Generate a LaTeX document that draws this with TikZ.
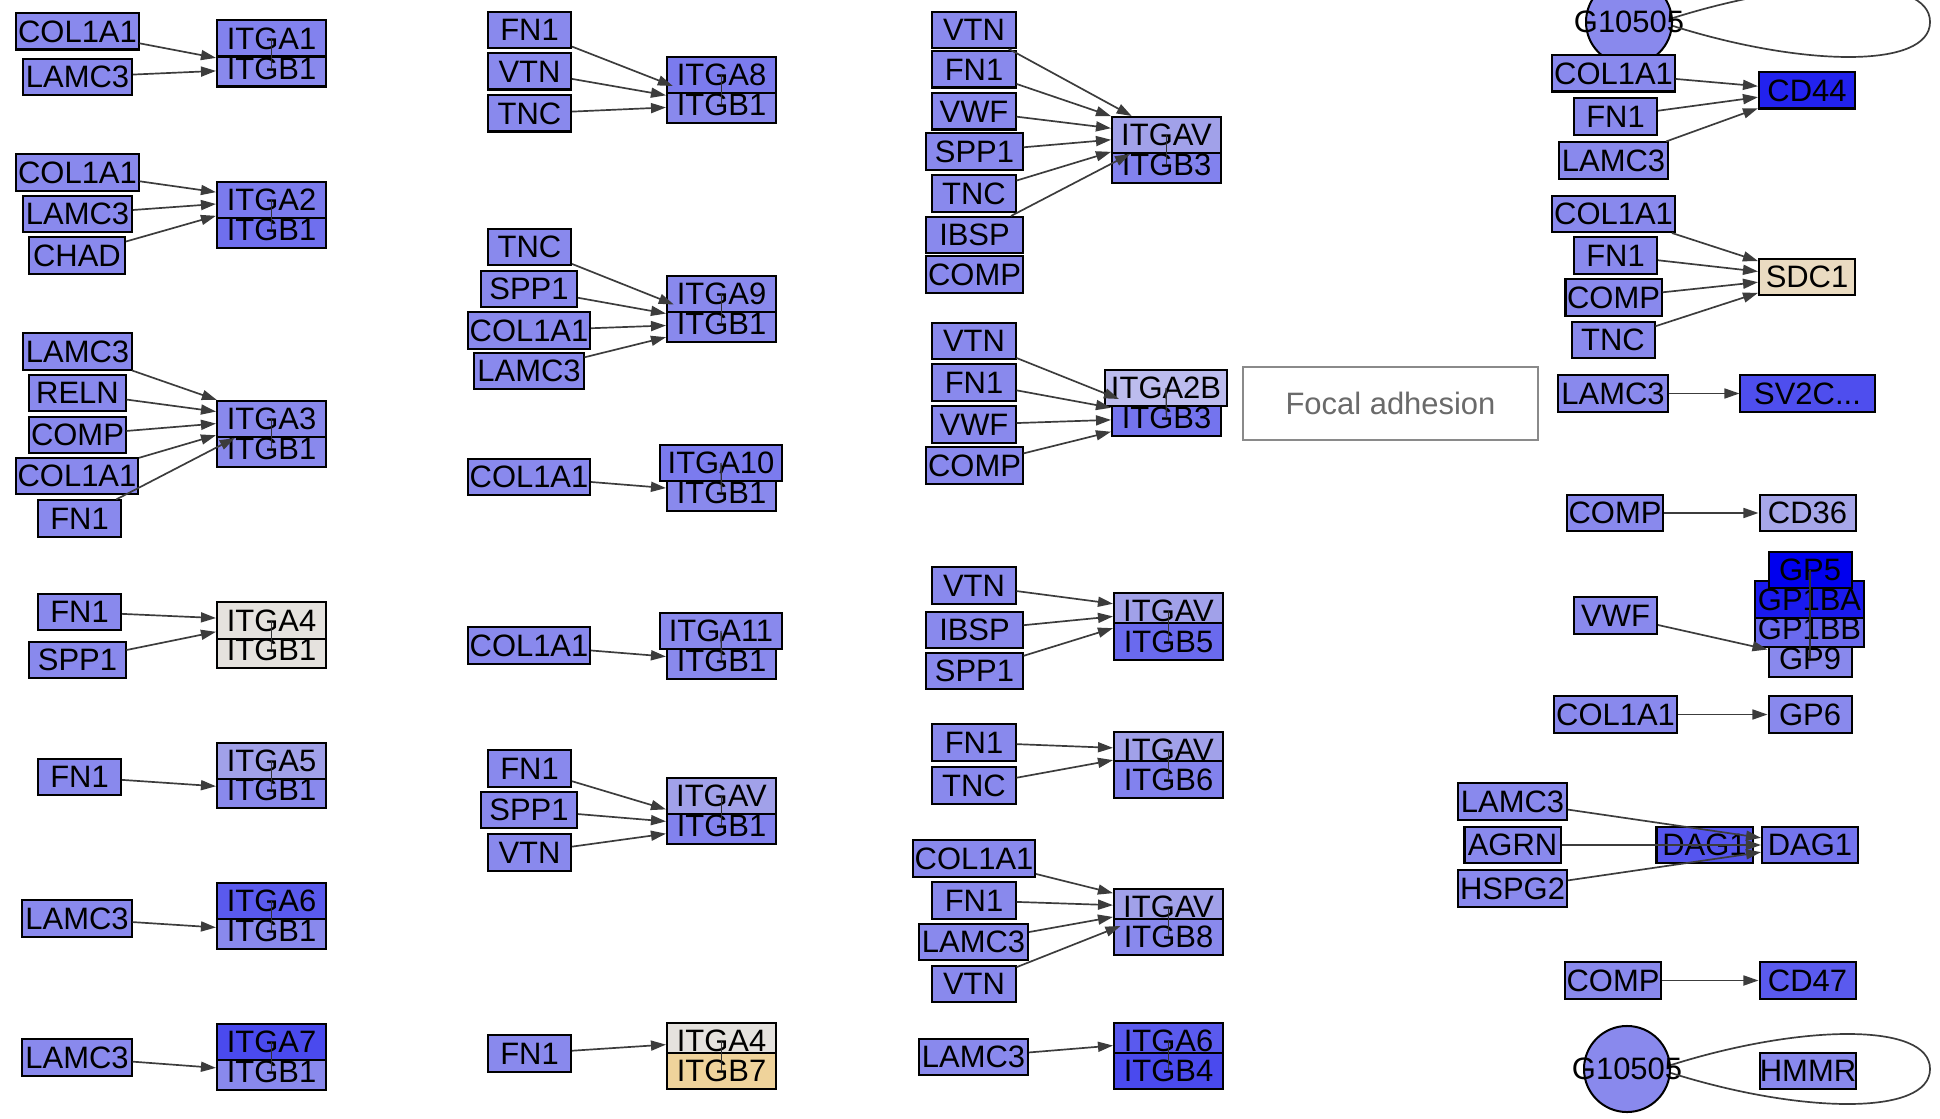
\documentclass[tikz,border=0pt]{standalone}
\usepackage{fontspec}
\newfontfamily\genefont{Liberation Sans}
\usetikzlibrary{arrows.meta}

\definecolor{gblue}{HTML}{8989ED}
\definecolor{avlight}{HTML}{A1A1E9}
\definecolor{albright}{HTML}{BCBCEE}
\definecolor{cdlight}{HTML}{A7A7E9}
\definecolor{greybeige}{HTML}{E5E2DE}
\definecolor{tanb}{HTML}{EFD39B}
\definecolor{sdcbeige}{HTML}{EADBC1}
\definecolor{bluea}{HTML}{8282EE}
\definecolor{blueb}{HTML}{7B7BEE}
\definecolor{bluec}{HTML}{6F6FEE}
\definecolor{blued}{HTML}{5A5AEE}
\definecolor{bluee}{HTML}{4A4AEE}
\definecolor{bluef}{HTML}{2222EE}
\definecolor{blueg}{HTML}{0000EE}
\definecolor{blueh}{HTML}{1A1AEE}
\definecolor{bluei}{HTML}{6A6AEE}
\definecolor{bluej}{HTML}{4E4EEE}
\definecolor{bluek}{HTML}{5555EE}
\definecolor{bluel}{HTML}{7474EE}
\definecolor{edgegray}{HTML}{3C3C3C}
\definecolor{fagray}{HTML}{8A8A8A}
\definecolor{fatext}{HTML}{6A6A6A}

\tikzset{
  gene/.style={draw=black, line width=0.57pt, fill=gblue, minimum height=0.36cm, inner sep=0pt,
    font=\genefont\fontsize{8.8}{9}\selectfont},
  w83/.style={minimum width=0.83cm},
  w96/.style={minimum width=0.96cm},
  w109/.style={minimum width=1.09cm},
  w122/.style={minimum width=1.22cm},
  w134/.style={minimum width=1.34cm},
  compound/.style={gene, circle, minimum size=0.86cm},
  pathway/.style={draw=fagray, line width=0.45pt, fill=white, minimum width=2.95cm, minimum height=0.73cm,
    text=fatext, font=\genefont\fontsize{8.8}{9}\selectfont},
  bind/.style={draw=edgegray, line width=0.48pt, -{Triangle[length=0.15cm,width=0.1cm]}},
  pair/.style={draw=black!80, line width=0.4pt},
  loopline/.style={draw=edgegray, line width=0.48pt},
}

\begin{document}
\begin{tikzpicture}[x=0.01cm,y=-0.01cm]
\clip (0,0) rectangle (1940,1119);
\fill[white] (0,0) rectangle (1940,1119);

% first column
\node[gene,w122] (a1col) at (77.5,31.5) {COL1A1};
\node[gene,w109] (a1lam) at (77.5,77) {LAMC3};
\node[gene,w109] (a1b) at (271.5,68.5) {ITGB1};
\node[gene,w109,fill=bluea] (a1a) at (271.5,38.5) {ITGA1};
\draw[pair] (a1a.center) -- (a1b.center);
\path (a1col) edge[bind] (a1b) (a1lam) edge[bind] (a1b);

\node[gene,w122] (a2col) at (77.5,172.5) {COL1A1};
\node[gene,w109] (a2lam) at (77.5,214) {LAMC3};
\node[gene,w96] (a2chad) at (77,255.5) {CHAD};
\node[gene,w109,fill=bluec] (a2b) at (271.5,229.5) {ITGB1};
\node[gene,w109,fill=blueb] (a2a) at (271.5,200) {ITGA2};
\draw[pair] (a2a.center) -- (a2b.center);
\path (a2col) edge[bind] (a2a) (a2lam) edge[bind] (a2a) (a2chad) edge[bind] (a2a);

\node[gene,w109] (a3lam) at (77.5,351.5) {LAMC3};
\node[gene,w96] (a3reln) at (77.5,393) {RELN};
\node[gene,w96] (a3comp) at (77.5,435) {COMP};
\node[gene,w122] (a3col) at (77,476) {COL1A1};
\node[gene,w83] (a3fn) at (79.5,518.5) {FN1};
\node[gene,w109] (a3b) at (271.5,449) {ITGB1};
\node[gene,w109] (a3a) at (271.5,419) {ITGA3};
\draw[pair] (a3a.center) -- (a3b.center);
\path (a3lam) edge[bind] (a3a) (a3reln) edge[bind] (a3a) (a3comp) edge[bind] (a3a)
      (a3col) edge[bind] (a3a) (a3fn) edge[bind] (a3a);

\node[gene,w83] (a4fn) at (79.5,612) {FN1};
\node[gene,w96] (a4spp) at (77.5,660) {SPP1};
\node[gene,w109,fill=greybeige] (a4b) at (271.5,650) {ITGB1};
\node[gene,w109,fill=greybeige] (a4a) at (271.5,620.5) {ITGA4};
\draw[pair] (a4a.center) -- (a4b.center);
\path (a4fn) edge[bind] (a4a) (a4spp) edge[bind] (a4a);

\node[gene,w83] (a5fn) at (79.5,777) {FN1};
\node[gene,w109] (a5b) at (271.5,790) {ITGB1};
\node[gene,w109,fill=avlight] (a5a) at (271.5,761) {ITGA5};
\draw[pair] (a5a.center) -- (a5b.center);
\path (a5fn) edge[bind] (a5b);

\node[gene,w109] (a6lam) at (77,918.5) {LAMC3};
\node[gene,w109] (a6b) at (271.5,931) {ITGB1};
\node[gene,w109,fill=blued] (a6a) at (271.5,901) {ITGA6};
\draw[pair] (a6a.center) -- (a6b.center);
\path (a6lam) edge[bind] (a6b);

\node[gene,w109] (a7lam) at (77,1057.5) {LAMC3};
\node[gene,w109] (a7b) at (271.5,1072) {ITGB1};
\node[gene,w109,fill=bluee] (a7a) at (271.5,1042) {ITGA7};
\draw[pair] (a7a.center) -- (a7b.center);
\path (a7lam) edge[bind] (a7b);

% second column
\node[gene,w83] (a8fn) at (529.5,30) {FN1};
\node[gene,w83] (a8vtn) at (529.5,71.5) {VTN};
\node[gene,w83] (a8tnc) at (529.5,113.5) {TNC};
\node[gene,w109] (a8b) at (721.5,105) {ITGB1};
\node[gene,w109,fill=blueb] (a8a) at (721.5,75) {ITGA8};
\draw[pair] (a8a.center) -- (a8b.center);
\path (a8fn) edge[bind] (a8b) (a8vtn) edge[bind] (a8b) (a8tnc) edge[bind] (a8b);

\node[gene,w83] (a9tnc) at (529.5,247) {TNC};
\node[gene,w96] (a9spp) at (529,289) {SPP1};
\node[gene,w122] (a9col) at (529,330.5) {COL1A1};
\node[gene,w109] (a9lam) at (529,371) {LAMC3};
\node[gene,w109] (a9b) at (721.5,323.5) {ITGB1};
\node[gene,w109] (a9a) at (721.5,294) {ITGA9};
\draw[pair] (a9a.center) -- (a9b.center);
\path (a9tnc) edge[bind] (a9b) (a9spp) edge[bind] (a9b) (a9col) edge[bind] (a9b) (a9lam) edge[bind] (a9b);

\node[gene,w122] (a10col) at (529,477) {COL1A1};
\node[gene,w109] (a10b) at (721.5,492.5) {ITGB1};
\node[gene,w122,fill=blueb] (a10a) at (721,463) {ITGA10};
\draw[pair] (a10a.center) -- (a10b.center);
\path (a10col) edge[bind] (a10b);

\node[gene,w122] (a11col) at (529,645.5) {COL1A1};
\node[gene,w109] (a11b) at (721.5,661) {ITGB1};
\node[gene,w122] (a11a) at (721,631) {ITGA11};
\draw[pair] (a11a.center) -- (a11b.center);
\path (a11col) edge[bind] (a11b);

\node[gene,w83] (avfn) at (529.5,768.5) {FN1};
\node[gene,w96] (avspp) at (529,810) {SPP1};
\node[gene,w83] (avvtn) at (529.5,852.5) {VTN};
\node[gene,w109,fill=bluea] (avb) at (721.5,826) {ITGB1};
\node[gene,w109,fill=avlight] (ava) at (721.5,796) {ITGAV};
\draw[pair] (ava.center) -- (avb.center);
\path (avfn) edge[bind] (avb) (avspp) edge[bind] (avb) (avvtn) edge[bind] (avb);

\node[gene,w83] (b7fn) at (529.5,1053.5) {FN1};
\node[gene,w109,fill=greybeige] (b7a) at (721.5,1041) {ITGA4};
\node[gene,w109,fill=tanb] (b7b) at (721.5,1071) {ITGB7};
\draw[pair] (b7a.center) -- (b7b.center);
\path (b7fn) edge[bind] (b7a);

% third column
\node[gene,w83] (b3vtn) at (974,30) {VTN};
\node[gene,w83] (b3fn) at (974,69.5) {FN1};
\node[gene,w83] (b3vwf) at (974,111.5) {VWF};
\node[gene,w96] (b3spp) at (974.5,151.5) {SPP1};
\node[gene,w83] (b3tnc) at (974,193.5) {TNC};
\node[gene,w96] (b3ibsp) at (974.5,235) {IBSP};
\node[gene,w96] (b3comp) at (974.5,274.5) {COMP};
\node[gene,w109,fill=bluea] (b3b) at (1166.5,165) {ITGB3};
\node[gene,w109,fill=avlight] (b3a) at (1166.5,135) {ITGAV};
\draw[pair] (b3a.center) -- (b3b.center);
\path (b3vtn) edge[bind] (b3a) (b3fn) edge[bind] (b3a) (b3vwf) edge[bind] (b3a)
      (b3spp) edge[bind] (b3a) (b3tnc) edge[bind] (b3a) (b3ibsp) edge[bind] (b3a);

\node[gene,w83] (a2bvtn) at (974,341) {VTN};
\node[gene,w83] (a2bfn) at (974,382.5) {FN1};
\node[gene,w83] (a2bvwf) at (974,424.5) {VWF};
\node[gene,w96] (a2bcomp) at (974.5,465.5) {COMP};
\node[gene,w109,fill=bluel] (a2bb) at (1166.5,418) {ITGB3};
\node[gene,w122,fill=albright] (a2ba) at (1166,388) {ITGA2B};
\draw[pair] (a2ba.center) -- (a2bb.center);
\path (a2bvtn) edge[bind] (a2bb) (a2bfn) edge[bind] (a2bb) (a2bvwf) edge[bind] (a2bb) (a2bcomp) edge[bind] (a2bb);

\node[pathway] (focal) at (1390.5,403.5) {Focal adhesion};

\node[gene,w83] (b5vtn) at (974,585.5) {VTN};
\node[gene,w96] (b5ibsp) at (974.5,630) {IBSP};
\node[gene,w96] (b5spp) at (974.5,671) {SPP1};
\node[gene,w109,fill=avlight] (b5a) at (1168.5,611) {ITGAV};
\node[gene,w109,fill=bluei] (b5b) at (1168.5,641.5) {ITGB5};
\draw[pair] (b5a.center) -- (b5b.center);
\path (b5vtn) edge[bind] (b5a) (b5ibsp) edge[bind] (b5a) (b5spp) edge[bind] (b5a);

\node[gene,w83] (b6fn) at (974,742.5) {FN1};
\node[gene,w83] (b6tnc) at (974,785.5) {TNC};
\node[gene,w109,fill=avlight] (b6a) at (1168.5,750) {ITGAV};
\node[gene,w109,fill=bluea] (b6b) at (1168.5,779.5) {ITGB6};
\draw[pair] (b6a.center) -- (b6b.center);
\path (b6fn) edge[bind] (b6a) (b6tnc) edge[bind] (b6a);

\node[gene,w122] (b8col) at (974,858.5) {COL1A1};
\node[gene,w83] (b8fn) at (974,900.5) {FN1};
\node[gene,w109] (b8lam) at (973.5,942) {LAMC3};
\node[gene,w83] (b8vtn) at (974,984) {VTN};
\node[gene,w109,fill=avlight] (b8a) at (1168.5,907) {ITGAV};
\node[gene,w109] (b8b) at (1168.5,937) {ITGB8};
\draw[pair] (b8a.center) -- (b8b.center);
\path (b8col) edge[bind] (b8a) (b8fn) edge[bind] (b8a) (b8lam) edge[bind] (b8a) (b8vtn) edge[bind] (b8a);

\node[gene,w109] (b4lam) at (973.5,1057) {LAMC3};
\node[gene,w109,fill=blued] (b4a) at (1168.5,1041) {ITGA6};
\node[gene,w109,fill=bluee] (b4b) at (1168.5,1071) {ITGB4};
\draw[pair] (b4a.center) -- (b4b.center);
\path (b4lam) edge[bind] (b4a);

% right column
\node[compound] (gtop) at (1629,22) {\makebox[0pt]{G10505}};
\coordinate (gtip1) at (1930,22);
\draw[loopline] ([yshift=0.04cm]gtop.east) .. controls +(130,-41) and +(0,-47) .. (gtip1)
  .. controls +(0,47) and +(130,41) .. ([yshift=-0.04cm]gtop.east);

\node[gene,w122] (cdcol) at (1613.5,73.5) {COL1A1};
\node[gene,w83] (cdfn) at (1615.5,116.5) {FN1};
\node[gene,w109] (cdlam) at (1613.5,160.5) {LAMC3};
\node[gene,w96,fill=bluef] (cd44) at (1807,90.5) {CD44};
\path (cdcol) edge[bind] (cd44) (cdfn) edge[bind] (cd44) (cdlam) edge[bind] (cd44);

\node[gene,w122] (sdcol) at (1613.5,214) {COL1A1};
\node[gene,w83] (sdfn) at (1615.5,255.5) {FN1};
\node[gene,w96] (sdcomp) at (1613.5,297.5) {COMP};
\node[gene,w83] (sdtnc) at (1613,340) {TNC};
\node[gene,w96,fill=sdcbeige] (sdc1) at (1807,277) {SDC1};
\path (sdcol) edge[bind] (sdc1) (sdfn) edge[bind] (sdc1) (sdcomp) edge[bind] (sdc1) (sdtnc) edge[bind] (sdc1);

\node[gene,w109] (svlam) at (1613,393.5) {LAMC3};
\node[gene,w134,fill=bluej] (sv2c) at (1807.5,393.5) {SV2C...};
\path (svlam) edge[bind] (sv2c);

\node[gene,w96] (c36comp) at (1615,513) {COMP};
\node[gene,w96,fill=cdlight] (cd36) at (1807.5,513) {CD36};
\path (c36comp) edge[bind] (cd36);

\node[gene,w83] (gpvwf) at (1615.5,615.5) {VWF};
\node[gene,w83] (gp9) at (1810,659) {GP9};
\node[gene,w109,fill=bluei] (gp1bb) at (1809.5,629) {GP1BB};
\node[gene,w109,fill=blueh] (gp1ba) at (1809.5,599.5) {GP1BA};
\node[gene,w83,fill=blueg] (gp5) at (1810,570) {GP5};
\draw[pair,line width=0.6pt] (gp5.center) -- (gp9.center);
\path (gpvwf) edge[bind] (gp9);

\node[gene,w122] (gpcol) at (1615.5,714.5) {COL1A1};
\node[gene,w83] (gp6) at (1810,714.5) {GP6};
\path (gpcol) edge[bind] (gp6);

\node[gene,w109] (dglam) at (1512.5,801.5) {LAMC3};
\node[gene,w96] (dgagrn) at (1512.5,845) {AGRN};
\node[gene,w109] (dghspg) at (1512.5,888.5) {HSPG2};
\node[gene,w96,fill=bluek] (dag1a) at (1704.5,845) {DAG1};
\node[gene,w96,fill=bluel] (dag1b) at (1810,845) {DAG1};
\path (dglam) edge[bind] (dag1b) (dgagrn) edge[bind] (dag1b) (dghspg) edge[bind] (dag1b);

\node[gene,w96] (c47comp) at (1613,980.5) {COMP};
\node[gene,w96,fill=blued] (cd47) at (1807.5,980.5) {CD47};
\path (c47comp) edge[bind] (cd47);

\node[gene,w96] (hmmr) at (1808,1071) {HMMR};
\node[compound] (gbot) at (1627,1069) {\makebox[0pt]{G10505}};
\coordinate (gtip2) at (1930,1069);
\draw[loopline] ([yshift=0.04cm]gbot.east) .. controls +(130,-41) and +(0,-47) .. (gtip2)
  .. controls +(0,47) and +(130,41) .. ([yshift=-0.04cm]gbot.east);

\end{tikzpicture}
\end{document}
